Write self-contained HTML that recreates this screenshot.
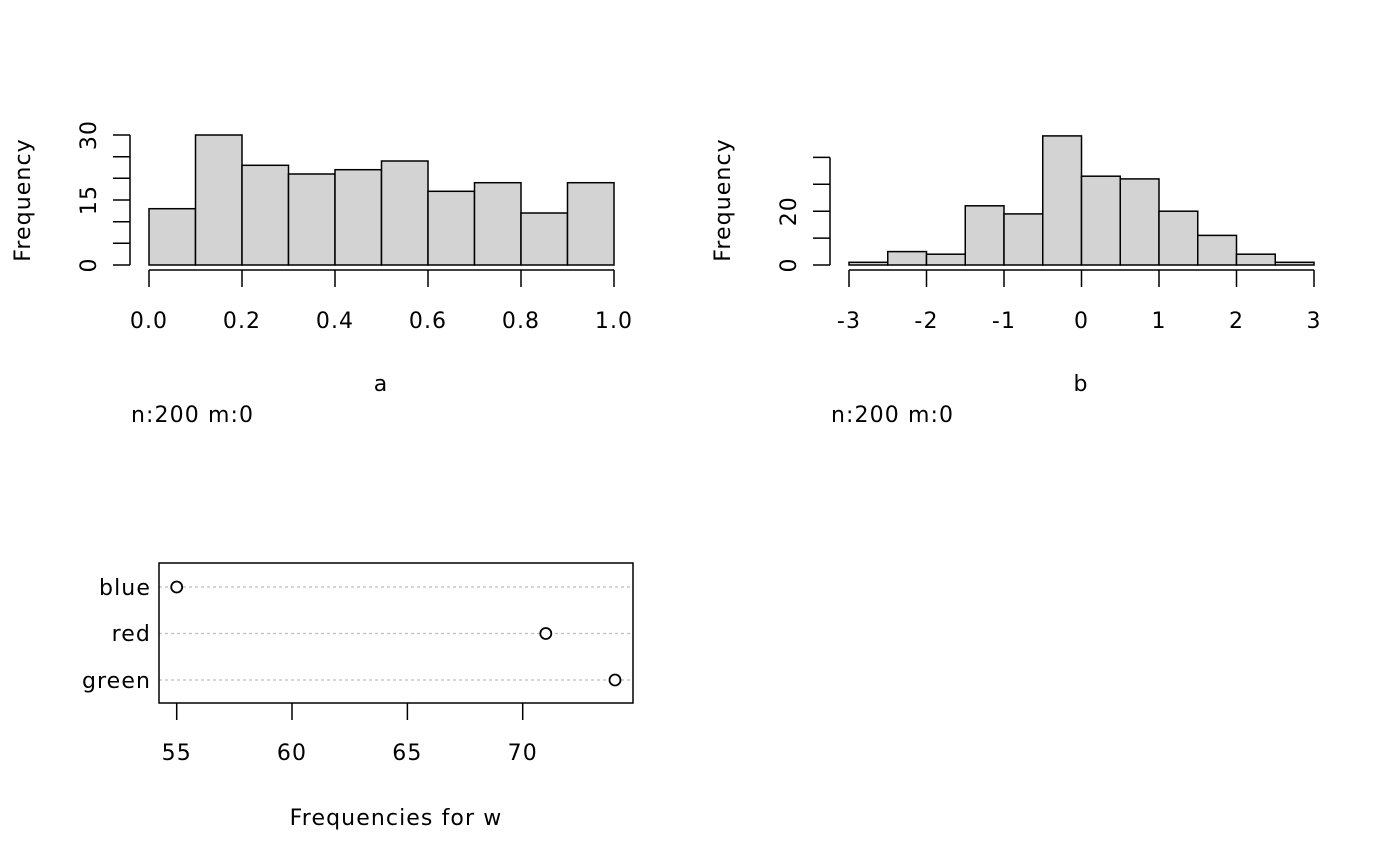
<!DOCTYPE html>
<html><head><meta charset="utf-8"><style>
html,body{margin:0;padding:0;background:#fff}
svg{display:block}
text{font-family:"DejaVu Sans",sans-serif;font-size:22px;letter-spacing:1.1px;fill:#000}
</style></head><body>
<svg width="1400" height="866" xmlns="http://www.w3.org/2000/svg">
<!-- Plot a -->
<g stroke="#000" stroke-width="1.5" fill="#d3d3d3">
<rect x="149" y="208.7" width="46.5" height="56.3"/>
<rect x="195.5" y="135" width="46.5" height="130"/>
<rect x="242" y="165.3" width="46.5" height="99.7"/>
<rect x="288.5" y="174" width="46.5" height="91"/>
<rect x="335" y="169.7" width="46.5" height="95.3"/>
<rect x="381.5" y="161" width="46.5" height="104"/>
<rect x="428" y="191.3" width="46.5" height="73.7"/>
<rect x="474.5" y="182.7" width="46.5" height="82.3"/>
<rect x="521" y="213" width="46.5" height="52"/>
<rect x="567.5" y="182.7" width="46.5" height="82.3"/>
</g>
<g stroke="#000" stroke-width="1.5" fill="none">
<path d="M130 265V135M113 265H130M113 243.3H130M113 221.7H130M113 200H130M113 178.3H130M113 156.7H130M113 135H130"/>
<path d="M149 270H614M149 270V287M242 270V287M335 270V287M428 270V287M521 270V287M614 270V287"/>
</g>
<g text-anchor="middle">
<text x="149" y="328">0.0</text><text x="242" y="328">0.2</text><text x="335" y="328">0.4</text>
<text x="428" y="328">0.6</text><text x="521" y="328">0.8</text><text x="614" y="328">1.0</text>
<text x="381" y="391">a</text>
<text transform="translate(96,265) rotate(-90)">0</text>
<text transform="translate(96,200) rotate(-90)">15</text>
<text transform="translate(96,135) rotate(-90)">30</text>
<text transform="translate(30,200) rotate(-90)">Frequency</text>
</g>
<text x="131" y="422">n:200 m:0</text>

<!-- Plot b -->
<g stroke="#000" stroke-width="1.5" fill="#d3d3d3">
<rect x="849" y="262.3" width="38.75" height="2.7"/>
<rect x="887.75" y="251.6" width="38.75" height="13.4"/>
<rect x="926.5" y="254.2" width="38.75" height="10.8"/>
<rect x="965.25" y="205.8" width="38.75" height="59.2"/>
<rect x="1004" y="213.9" width="38.75" height="51.1"/>
<rect x="1042.75" y="135.9" width="38.75" height="129.1"/>
<rect x="1081.5" y="176.2" width="38.75" height="88.8"/>
<rect x="1120.25" y="178.9" width="38.75" height="86.1"/>
<rect x="1159" y="211.2" width="38.75" height="53.8"/>
<rect x="1197.75" y="235.4" width="38.75" height="29.6"/>
<rect x="1236.5" y="254.2" width="38.75" height="10.8"/>
<rect x="1275.25" y="262.3" width="38.75" height="2.7"/>
</g>
<g stroke="#000" stroke-width="1.5" fill="none">
<path d="M830 265V157.4M813 265H830M813 238.1H830M813 211.2H830M813 184.3H830M813 157.4H830"/>
<path d="M849 270H1314M849 270V287M926.5 270V287M1004 270V287M1081.5 270V287M1159 270V287M1236.5 270V287M1314 270V287"/>
</g>
<g text-anchor="middle">
<text x="849" y="328">-3</text><text x="926.5" y="328">-2</text><text x="1004" y="328">-1</text>
<text x="1081.5" y="328">0</text><text x="1159" y="328">1</text><text x="1236.5" y="328">2</text><text x="1314" y="328">3</text>
<text x="1081" y="391">b</text>
<text transform="translate(796,265) rotate(-90)">0</text>
<text transform="translate(796,211.2) rotate(-90)">20</text>
<text transform="translate(730,200) rotate(-90)">Frequency</text>
</g>
<text x="831" y="422">n:200 m:0</text>

<!-- Dot chart -->
<g stroke="#bebebe" stroke-width="1.2" stroke-dasharray="3,3">
<path d="M159 587H633M159 633.5H633M159 680H633"/>
</g>
<rect x="159" y="563" width="474" height="140" fill="none" stroke="#000" stroke-width="1.5"/>
<g stroke="#000" stroke-width="1.8" fill="#fff">
<circle cx="176.7" cy="587" r="5.5"/>
<circle cx="545.8" cy="633.5" r="5.5"/>
<circle cx="615" cy="680" r="5.5"/>
</g>
<g stroke="#000" stroke-width="1.5">
<path d="M176.7 703V720M292 703V720M407.4 703V720M522.7 703V720"/>
</g>
<g text-anchor="end">
<text x="151" y="595">blue</text><text x="151" y="641">red</text><text x="151" y="688">green</text>
</g>
<g text-anchor="middle">
<text x="176.7" y="760">55</text><text x="292" y="760">60</text><text x="407.4" y="760">65</text><text x="522.7" y="760">70</text>
<text x="396" y="825">Frequencies for w</text>
</g>
</svg>
</body></html>
